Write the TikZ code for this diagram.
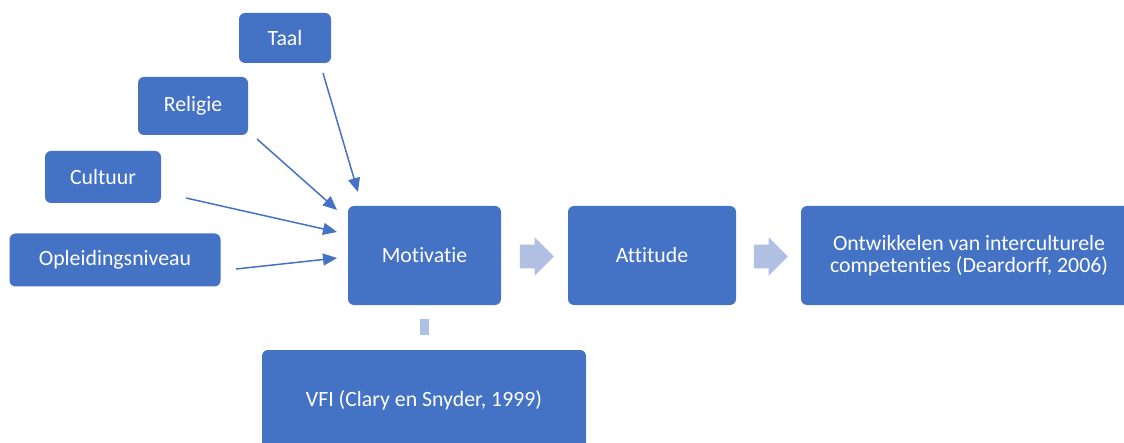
\documentclass[tikz,border=0pt]{standalone}
\usepackage{fontspec}
\setmainfont[Ligatures=NoCommon]{Carlito}
\usetikzlibrary{arrows.meta,shapes.arrows}
\definecolor{boxblue}{HTML}{4472C4}
\definecolor{paleblue}{HTML}{B0C0E3}
\begin{document}
\begin{tikzpicture}[x=0.5pt,y=-0.5pt, link/.style={draw=boxblue,line width=0.75pt,-{Triangle[length=7pt,width=6pt]}},main box/.style={rectangle,rounded corners=3pt,fill=boxblue,text=white,inner sep=0pt,align=center,font=\fontsize{10.9}{11}\selectfont},flow arrow/.style={single arrow,fill=paleblue,inner xsep=0pt,inner ysep=5.75pt,single arrow head extend=3.75pt,minimum height=17pt,shape border rotate=0}]
\useasboundingbox (0,0) rectangle (1124,443);
\clip (0,0) rectangle (1124,443);
\node[main box,minimum width=46pt,minimum height=25pt] (taal) at (285,38) {Taal};
\node[main box,minimum width=55pt,minimum height=29pt] (religie) at (193,106) {Religie};
\node[main box,minimum width=58pt,minimum height=26pt] (cultuur) at (103,177) {Cultuur};
\node[main box,minimum width=105.5pt,minimum height=26.5pt] (opleiding) at (115,260) {Opleidingsniveau};
\node[main box,minimum width=76.5pt,minimum height=49.5pt] (motivatie) at (424.5,255.5) {Motivatie};
\node[main box,minimum width=84pt,minimum height=49.5pt] (attitude) at (652,255.5) {Attitude};
\node[main box,minimum width=168pt,minimum height=49.5pt] (ontwikkelen) at (969,255.5) {Ontwikkelen van interculturele\\competenties (Deardorff, 2006)};
\node[main box,minimum width=162pt,minimum height=50pt] (vfi) at (424,400) {VFI (Clary en Snyder, 1999)};
\node[flow arrow] (pijl1) at (531,256.5) {};
\node[flow arrow] (pijl2) at (765,256.5) {};
\node[rectangle,fill=paleblue,inner sep=0pt,minimum width=4.5pt,minimum height=8pt] (stip) at (424.5,327) {};
\coordinate (t1) at (323,73);
\coordinate (t2) at (358,192);
\coordinate (r1) at (257,139);
\coordinate (r2) at (337,210);
\coordinate (c1) at (186,198);
\coordinate (c2) at (337,232);
\coordinate (o1) at (236,269);
\coordinate (o2) at (337,258);
\draw[link] (t1) -- (t2);
\draw[link] (r1) -- (r2);
\draw[link] (c1) -- (c2);
\draw[link] (o1) -- (o2);
\end{tikzpicture}
\end{document}
